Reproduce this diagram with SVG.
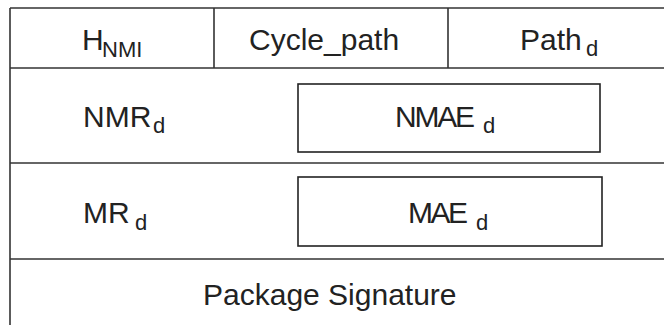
<svg xmlns="http://www.w3.org/2000/svg" width="664" height="325" viewBox="0 0 664 325">
<style>
.ln{stroke:#333;stroke-width:1.6;fill:none}
.bx{stroke:#222;stroke-width:1.6;fill:none}
.t{font-family:"Liberation Sans",Arial,sans-serif;font-size:30px;fill:#222}
.s{font-family:"Liberation Sans",Arial,sans-serif;font-size:22px;fill:#222}
</style>
<rect width="664" height="325" fill="#fff"/>
<g id="frame">
<line class="ln" x1="10" y1="8" x2="664" y2="8"/>
<line class="ln" x1="10" y1="8" x2="10" y2="325"/>
<line class="ln" x1="10" y1="68" x2="664" y2="68"/>
<line class="ln" x1="10" y1="163" x2="664" y2="163"/>
<line class="ln" x1="10" y1="259" x2="664" y2="259"/>
<line class="ln" x1="214" y1="8" x2="214" y2="68"/>
<line class="ln" x1="448" y1="8" x2="448" y2="68"/>
</g>
<g id="hnmi"><text class="t" x="82" y="50">H</text><text class="s" x="102" y="57">NMI</text></g>
<g id="cycle"><text class="t" x="249" y="50">Cycle_path</text></g>
<g id="pathd"><text class="t" x="520" y="50">Path</text><text class="s" x="586" y="56">d</text></g>
<g id="nmrd"><text class="t" x="83" y="127">NMR</text><text class="s" x="153" y="133">d</text></g>
<g id="nmaed"><rect class="bx" x="298" y="84" width="302" height="68"/><text class="t" x="395" y="127" textLength="80">NMAE</text><text class="s" x="483" y="133">d</text></g>
<g id="mrd"><text class="t" x="83" y="223">MR</text><text class="s" x="135" y="230">d</text></g>
<g id="maed"><rect class="bx" x="298" y="177" width="304" height="69"/><text class="t" x="408" y="223" textLength="60">MAE</text><text class="s" x="476" y="230">d</text></g>
<g id="sig"><text class="t" x="203" y="305">Package Signature</text></g>
</svg>
